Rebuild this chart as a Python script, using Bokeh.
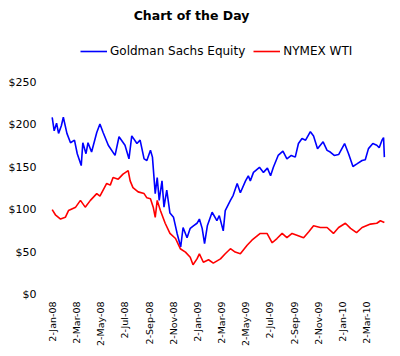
import pandas as pd
from bokeh.plotting import figure
from bokeh.models import Range1d, FixedTicker, Legend, LegendItem, Label
from bokeh.embed import file_html
from bokeh.resources import INLINE

# ---- data ----
gs_dates = ["2008-01-02", "2008-01-07", "2008-01-13", "2008-01-18", "2008-01-25", "2008-01-30",
            "2008-02-08", "2008-02-17", "2008-02-27", "2008-03-05", "2008-03-15", "2008-03-19",
            "2008-03-27", "2008-04-01", "2008-04-10", "2008-04-23", "2008-05-01", "2008-05-09",
            "2008-05-22", "2008-06-08", "2008-06-18", "2008-07-03", "2008-07-13", "2008-07-20",
            "2008-08-02", "2008-08-10", "2008-08-20", "2008-08-27", "2008-09-05", "2008-09-10",
            "2008-09-17", "2008-09-22", "2008-09-27", "2008-10-04", "2008-10-09", "2008-10-16",
            "2008-10-24", "2008-11-02", "2008-11-11", "2008-11-20", "2008-11-26", "2008-12-06",
            "2008-12-14", "2008-12-22", "2008-12-31", "2009-01-06", "2009-01-13", "2009-01-19",
            "2009-01-26", "2009-02-07", "2009-02-19", "2009-02-25", "2009-03-07", "2009-03-12",
            "2009-03-25", "2009-04-01", "2009-04-11", "2009-04-19", "2009-05-02", "2009-05-09",
            "2009-05-14", "2009-05-22", "2009-06-06", "2009-06-16", "2009-06-26", "2009-07-04",
            "2009-07-11", "2009-07-23", "2009-08-04", "2009-08-14", "2009-08-25", "2009-09-04",
            "2009-09-12", "2009-09-21", "2009-09-30", "2009-10-12", "2009-10-20", "2009-10-30",
            "2009-11-13", "2009-11-23", "2009-12-01", "2009-12-11", "2009-12-22", "2010-01-06",
            "2010-01-16", "2010-01-27", "2010-02-06", "2010-02-19", "2010-02-27", "2010-03-07",
            "2010-03-18", "2010-03-28", "2010-04-03", "2010-04-10", "2010-04-14", "2010-04-16"]
gs_values = [209, 193, 202, 190, 199, 209,
             190, 179, 182, 166, 152, 179,
             166, 179, 168, 191, 201, 191,
             176, 164, 186, 176, 160, 187,
             178, 182, 160, 158, 170, 162,
             119, 138, 111, 134, 103, 123,
             96, 91, 72, 56, 79, 67,
             78, 81, 84, 89, 78, 60,
             81, 97, 87, 93, 75, 99,
             111, 117, 131, 120, 134, 140,
             134, 144, 150, 144, 149, 140,
             150, 164, 169, 160, 164, 162,
             178, 184, 182, 192, 187, 172,
             180, 170, 168, 164, 165, 178,
             166, 151, 154, 158, 159, 172,
             178, 176, 173, 182, 185, 162]

wti_dates = ["2008-01-02", "2008-01-10", "2008-01-23", "2008-02-04", "2008-02-12", "2008-03-01",
             "2008-03-13", "2008-03-25", "2008-04-07", "2008-04-23", "2008-05-01", "2008-05-18",
             "2008-05-27", "2008-06-03", "2008-06-16", "2008-06-28", "2008-07-11", "2008-07-16",
             "2008-07-23", "2008-08-05", "2008-08-20", "2008-08-27", "2008-09-05", "2008-09-12",
             "2008-09-17", "2008-09-22", "2008-09-30", "2008-10-12", "2008-10-24", "2008-11-07",
             "2008-11-19", "2008-12-02", "2008-12-14", "2008-12-21", "2008-12-31", "2009-01-06",
             "2009-01-16", "2009-01-29", "2009-02-10", "2009-02-28", "2009-03-12", "2009-03-25",
             "2009-04-06", "2009-04-19", "2009-05-06", "2009-05-18", "2009-06-08", "2009-06-25",
             "2009-07-08", "2009-07-20", "2009-08-02", "2009-08-14", "2009-08-27", "2009-09-08",
             "2009-09-25", "2009-10-08", "2009-10-20", "2009-11-06", "2009-11-23", "2009-12-09",
             "2009-12-22", "2010-01-08", "2010-01-21", "2010-02-05", "2010-02-19", "2010-03-12",
             "2010-03-28", "2010-04-06", "2010-04-16"]
wti_values = [100, 94, 89, 91, 99, 103,
              111, 103, 111, 119, 116, 131,
              129, 138, 136, 142, 146, 134,
              126, 121, 119, 114, 113, 103,
              91, 111, 99, 84, 72, 66,
              54, 50, 44, 35, 42, 48,
              38, 41, 37, 42, 48, 54,
              50, 48, 58, 64, 72, 72,
              61, 66, 72, 67, 72, 70,
              67, 74, 81, 79, 79, 72,
              79, 84, 78, 73, 79, 83,
              84, 87, 85]

title_text = "Chart of the Day"
series_names = ["Goldman Sachs Equity", "NYMEX WTI"]

x_tick_dates = ["2008-01-02", "2008-03-02", "2008-05-02", "2008-07-02", "2008-09-02",
                "2008-11-02", "2009-01-02", "2009-03-02", "2009-05-02", "2009-07-02",
                "2009-09-02", "2009-11-02", "2010-01-02", "2010-03-02"]
x_tick_labels = ["2-Jan-08", "2-Mar-08", "2-May-08", "2-Jul-08", "2-Sep-08", "2-Nov-08",
                 "2-Jan-09", "2-Mar-09", "2-May-09", "2-Jul-09", "2-Sep-09", "2-Nov-09",
                 "2-Jan-10", "2-Mar-10"]
y_ticks = [0, 50, 100, 150, 200, 250]
y_tick_labels = ["$0", "$50", "$100", "$150", "$200", "$250"]


def to_ms(dates):
    return [int(t.value // 10**6) for t in pd.to_datetime(dates)]


# ---- layout ----
LEFT = 45
FRAME_W, FRAME_H = 345, 294          # frame reaches the top of the canvas
PLOT_TOP_PX = 82                      # where $250 sits, measured from the top
x_start = pd.Timestamp("2007-12-16 04:00").value // 10**6
x_end = pd.Timestamp("2010-05-01 10:00").value // 10**6
y_top = 250 * FRAME_H / (FRAME_H - PLOT_TOP_PX)

p = figure(frame_width=FRAME_W, frame_height=FRAME_H, output_backend="svg",
           toolbar_location=None,
           x_range=Range1d(x_start, x_end), y_range=Range1d(0, y_top),
           min_border_left=LEFT, min_border_right=2, min_border_top=0, min_border_bottom=52)

r1 = p.line(pd.to_datetime(gs_dates), gs_values, line_color="#0000FF", line_width=1.6)
r2 = p.line(pd.to_datetime(wti_dates), wti_values, line_color="#FF0000", line_width=1.6)

# title, centred at x ~191, y ~15
title_x = x_start + (191 - LEFT) / FRAME_W * (x_end - x_start)
title_y = y_top * (1 - 15 / FRAME_H)
p.add_layout(Label(x=title_x, y=title_y, text=title_text, text_align="center",
                   text_baseline="middle", text_font="DejaVu Sans",
                   text_font_size="12.5px", text_font_style="bold", text_color="#000000"))

legend = Legend(items=[LegendItem(label=series_names[0], renderers=[r1]),
                       LegendItem(label=series_names[1], renderers=[r2])],
                orientation="horizontal", location=(35, 233),
                padding=0, margin=0, spacing=8, label_standoff=3,
                glyph_width=27, glyph_height=20, label_height=20,
                label_text_font="DejaVu Sans", label_text_font_size="12px",
                label_text_color="#000000",
                border_line_color=None, background_fill_alpha=0)
p.add_layout(legend, "center")

p.xgrid.visible = False
p.ygrid.visible = False
p.outline_line_color = None

xax = p.xaxis[0]
xax.ticker = FixedTicker(ticks=to_ms(x_tick_dates))
xax.major_label_overrides = {ms: lab for ms, lab in zip(to_ms(x_tick_dates), x_tick_labels)}
xax.major_label_orientation = 3.14159265 / 2
xax.axis_line_color = None
xax.major_tick_line_color = None
xax.minor_tick_line_color = None
xax.major_tick_out = 0
xax.major_tick_in = 0
xax.minor_tick_out = 0
xax.major_label_standoff = 7
xax.major_label_text_font = "DejaVu Sans"
xax.major_label_text_font_size = "9.5px"
xax.major_label_text_color = "#000000"

yax = p.yaxis[0]
yax.ticker = FixedTicker(ticks=y_ticks)
yax.major_label_overrides = {t: lab for t, lab in zip(y_ticks, y_tick_labels)}
yax.axis_line_color = None
yax.major_tick_line_color = None
yax.minor_tick_line_color = None
yax.major_tick_out = 0
yax.major_tick_in = 0
yax.minor_tick_out = 0
yax.major_label_standoff = 9
yax.major_label_text_font = "DejaVu Sans"
yax.major_label_text_font_size = "11px"
yax.major_label_text_color = "#000000"

open("out.html", "w").write(file_html(p, INLINE))
